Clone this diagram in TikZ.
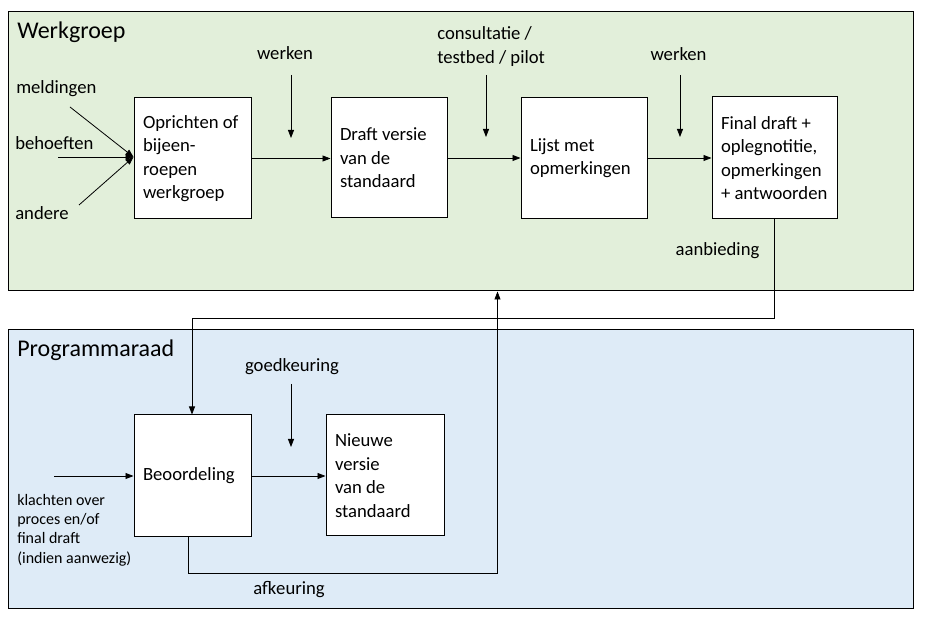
\documentclass[tikz,border=0pt]{standalone}
\usepackage{fontspec}
\setmainfont{Carlito}
\usetikzlibrary{arrows.meta}
\definecolor{wgfill}{HTML}{E2EFDA}
\definecolor{prfill}{HTML}{DEEBF7}
\begin{document}
\begin{tikzpicture}[x=0.75pt,y=-0.75pt,
 frame/.style={draw=black, line width=0.75pt, minimum width=678.75pt, minimum height=209.25pt, inner sep=0pt},
 box/.style={draw=black, fill=white, line width=0.75pt, align=flush left, inner xsep=6.75pt, inner ysep=0pt, font=\fontsize{14}{17.6}\selectfont},
 lbl/.style={inner sep=0pt, font=\fontsize{14}{17.6}\selectfont},
 small/.style={inner sep=0pt, align=flush left, font=\fontsize{12}{14.5}\selectfont},
 ttl/.style={inner sep=0pt, anchor=west, font=\fontsize{18}{22}\selectfont},
 arr/.style={-{Triangle[length=6pt,width=4.5pt]}, line width=0.6pt},
]
\useasboundingbox[fill=white] (0,0) rectangle (929,634);
\node[frame, fill=wgfill] (wg) at (460.5,151.5) {};
\node[frame, fill=prfill] (pr) at (460.5,469.5) {};
\node[ttl] (twg) at (17,32) {Werkgroep};
\node[ttl] (tpr) at (17,350) {Programmaraad};

% boxes
\node[box, text width=74.25pt, minimum height=90.75pt] (b1) at (192.5,158.5) {Oprichten of\\bijeen-\\roepen\\werkgroep};
\node[box, text width=73.5pt, minimum height=90pt] (b2) at (389,158) {Draft versie\\van de\\standaard};
\node[box, text width=81pt, minimum height=90.75pt] (b3) at (584,158) {Lijst met\\opmerkingen};
\node[box, text width=80.25pt, minimum height=91.5pt] (b4) at (774.5,158) {Final draft +\\oplegnotitie,\\opmerkingen\\+\ antwoorden};
\node[box, text width=74.25pt, minimum height=91.5pt] (b5) at (192.5,476) {Beoordeling};
\node[box, text width=75pt, minimum height=90.75pt] (b6) at (385,475.5) {Nieuwe\\versie\\van de\\standaard};

% labels
\node[lbl] (lw1) at (285,53) {werken};
\node[lbl, anchor=west, align=flush left, font=\fontsize{14}{18}\selectfont] (lcon) at (437,47) {consultatie /\\testbed / pilot};
\node[lbl] (lw2) at (678.5,54) {werken};
\node[lbl] (lanb) at (717.5,251) {aanbieding};
\node[lbl] (lgoed) at (292,367) {goedkeuring};
\node[lbl] (lafk) at (289,590) {afkeuring};
\node[lbl, anchor=west] (lmeld) at (16,89) {meldingen};
\node[lbl, anchor=west] (lbeh) at (15,143) {behoeften};
\node[lbl, anchor=west] (land) at (15,213) {andere};
\node[small, anchor=west] (lkl) at (17,530) {klachten over\\proces en/of\\final draft\\(indien aanwezig)};

% coordinates
\coordinate (jn) at (133.5,157);
\coordinate (m0) at (70,107);
\coordinate (h0) at (58,157);
\coordinate (a0) at (79,205);
\coordinate (w1s) at (291,75);
\coordinate (w1e) at (291,138);
\coordinate (cs) at (486,75);
\coordinate (ce) at (486,137);
\coordinate (w2s) at (680,75);
\coordinate (w2e) at (680,137);
\coordinate (gs) at (291,384);
\coordinate (ge) at (291,447);
\coordinate (ks) at (54,476);
\coordinate (fb) at (192,318);
\coordinate (ak1) at (188,573);
\coordinate (ak2) at (497.5,573);

% left inputs
\draw[arr] (m0) -- (jn);
\draw[arr] (h0) -- (jn);
\draw[arr] (a0) -- (jn);

% flow
\draw[arr] (b1.east) -- (b1.east -| b2.west);
\draw[arr] (b2.east) -- (b2.east -| b3.west);
\draw[arr] (b3.east) -- (b3.east -| b4.west);
\draw[arr] (b5.east) -- (b5.east -| b6.west);
\draw[arr] (ks) -- (ks -| b5.west);

% vertical inputs
\draw[arr] (w1s) -- (w1e);
\draw[arr] (cs) -- (ce);
\draw[arr] (w2s) -- (w2e);
\draw[arr] (gs) -- (ge);

% feedback loops
\draw[arr] (b4.south) |- (fb) -- (fb |- b5.north);
\draw[arr] (b5.south -| ak1) -- (ak1) -- (ak2) -- (ak2 |- wg.south);
\end{tikzpicture}
\end{document}
